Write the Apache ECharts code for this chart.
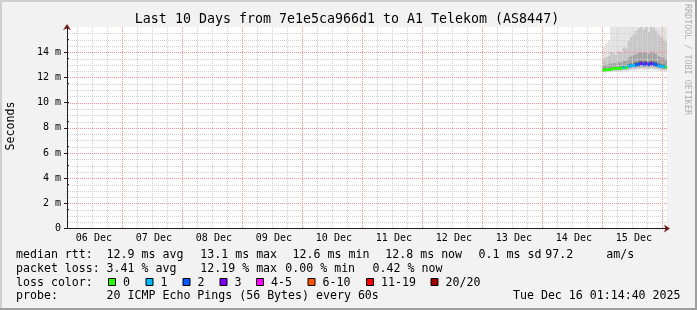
<!DOCTYPE html>
<html><head><meta charset="utf-8">
<script src="https://cdn.jsdelivr.net/npm/echarts@6/dist/echarts.min.js"></script>
<style>html,body{margin:0;padding:0;background:#f2f2f2}#c{width:697px;height:310px}</style>
</head><body><div id="c"></div>
<script>
// ---------------- data ----------------
const titleText = 'Last 10 Days from 7e1e5ca966d1 to A1 Telekom (AS8447)';
const rangeStart = '2025-12-06 01:14:40';
const rangeEnd = '2025-12-16 01:14:40';
const dayLabels = ['06 Dec','07 Dec','08 Dec','09 Dec','10 Dec','11 Dec','12 Dec','13 Dec','14 Dec','15 Dec'];
const dayLabelTimes = ['2025-12-06 12:00','2025-12-07 12:00','2025-12-08 12:00','2025-12-09 12:00','2025-12-10 12:00',
  '2025-12-11 12:00','2025-12-12 12:00','2025-12-13 12:00','2025-12-14 12:00','2025-12-15 12:00'];
const yMax = 16;
const yTickValues = [0, 2, 4, 6, 8, 10, 12, 14];
const yTickLabels = ['0', '2 m', '4 m', '6 m', '8 m', '10 m', '12 m', '14 m'];

// hourly bins (start times)
const binStart = ['2025-12-14 23:30','2025-12-15 00:30','2025-12-15 01:30','2025-12-15 02:30','2025-12-15 03:30',
  '2025-12-15 04:30','2025-12-15 05:30','2025-12-15 06:30','2025-12-15 07:30','2025-12-15 08:30',
  '2025-12-15 09:30','2025-12-15 10:30','2025-12-15 11:30','2025-12-15 12:30','2025-12-15 13:30',
  '2025-12-15 14:30','2025-12-15 15:30','2025-12-15 16:30','2025-12-15 17:30','2025-12-15 18:30',
  '2025-12-15 19:30','2025-12-15 20:30','2025-12-15 21:30','2025-12-15 22:30','2025-12-15 23:30',
  '2025-12-16 00:30'];
// median RTT (ms)
const medianRtt = [12.58,12.60,12.62,12.65,12.70,12.70,12.72,12.72,12.78,12.76,12.90,12.92,12.95,13.00,13.05,
  13.10,13.05,13.08,13.02,13.10,13.05,13.00,12.90,12.88,12.85,12.80];
// lost pings out of 20
const lossCount = [0,0,0,0,0,0,0,0,1,0,1,1,1,2,2,3,2,3,2,3,2,2,1,1,1,0];
// smoke percentiles (ms)
const smokeLo  = [12.40,12.40,12.42,12.42,12.45,12.45,12.45,12.45,12.48,12.48,12.50,12.52,12.55,12.55,12.58,12.60,12.58,12.60,12.58,12.60,12.58,12.55,12.52,12.50,12.50,12.48];
const smokeP10 = [12.45,12.46,12.48,12.50,12.53,12.53,12.55,12.55,12.58,12.58,12.62,12.64,12.66,12.68,12.70,12.72,12.70,12.72,12.70,12.72,12.70,12.68,12.64,12.62,12.60,12.58];
const smokeP25 = [12.50,12.52,12.54,12.57,12.60,12.60,12.62,12.62,12.66,12.66,12.72,12.75,12.78,12.80,12.83,12.86,12.84,12.85,12.82,12.86,12.84,12.80,12.74,12.72,12.70,12.67];
const smokeP40 = [12.55,12.57,12.59,12.62,12.66,12.66,12.68,12.68,12.73,12.72,12.82,12.85,12.88,12.92,12.96,13.00,12.97,12.99,12.94,13.00,12.97,12.92,12.83,12.81,12.79,12.74];
const smokeP60 = [12.68,12.70,12.72,12.76,12.80,12.80,12.82,12.84,12.90,12.88,13.05,13.10,13.15,13.22,13.28,13.32,13.28,13.30,13.24,13.32,13.28,13.22,13.10,13.06,13.02,12.96];
const smokeP75 = [12.95,13.00,13.05,13.10,13.15,13.10,13.20,13.20,13.30,13.30,13.55,13.65,13.75,13.85,13.95,14.00,13.95,14.00,13.85,14.05,13.95,13.85,13.65,13.60,13.55,13.45];
const smokeP90 = [13.50,13.60,13.70,14.00,13.90,13.80,14.10,14.00,14.40,14.30,14.90,15.20,15.40,15.70,15.90,16.20,15.80,16.00,15.60,16.10,15.90,15.70,15.40,15.20,15.00,14.80];
const smokeHi  = [14.40,14.70,14.90,16.50,17.00,16.80,17.50,16.20,18.00,17.00,18.00,18.00,18.50,19.00,19.00,19.50,19.00,19.00,18.50,19.00,19.00,18.50,18.00,18.00,17.50,17.00];

const lossLabels = ['0','1','2','3','4-5','6-10','11-19','20/20'];
const lossColors = ['#26ff00','#00b8ff','#0059ff','#7e00ff','#ff00ff','#ff5500','#ff0000','#a00000'];

const legendRtt = [['median rtt:',16],['12.9 ms avg',106.6],['13.1 ms max',200.3],['12.6 ms min',292.6],['12.8 ms now',385.3],['0.1 ms sd',478.6],['97.2',545.3],['am/s',606.2]];
const legendLoss = [['packet loss:',16],['3.41 % avg',106.6],['12.19 % max',200.3],['0.00 % min',285.3],['0.42 % now',372.6]];
const legendProbe = [['probe:',16],['20 ICMP Echo Pings (56 Bytes) every 60s',106.6]];
const dateStamp = 'Tue Dec 16 01:14:40 2025';
const watermark = 'RRDTOOL / TOBI OETIKER';

// ---------------- helpers ----------------
function ts(s){
  const [d,t] = s.split(' ');
  const [Y,M,D] = d.split('-').map(Number);
  const p = t.split(':').map(Number);
  return new Date(Y, M-1, D, p[0], p[1], p[2]||0).getTime();
}
function lossIndex(n){
  if (n<=3) return n; if (n<=5) return 4; if (n<=10) return 5; if (n<=19) return 6; return 7;
}
const HOUR = 3600*1000;
const tMin = ts(rangeStart), tMax = ts(rangeEnd);
const MONO = 'DejaVu Sans Mono';
const labelTimes = dayLabelTimes.map(ts);

const smokeData = binStart.map((s,i)=>[ts(s), ts(s)+HOUR, smokeLo[i], smokeP10[i], smokeP25[i], smokeP40[i], smokeP60[i], smokeP75[i], smokeP90[i], smokeHi[i]]);
const medianData = binStart.map((s,i)=>[ts(s), ts(s)+HOUR, medianRtt[i], lossCount[i]]);

// grid lines (vertical every 6h, red at midnight; horizontal every 0.5 ms, red every 2 ms)
const vMinor = [], vMajor = [];
for (let k = 0; ; k++) {
  const t = ts('2025-12-06 06:00') + k*6*HOUR;
  if (t > tMax) break;
  if (k % 4 === 3) vMajor.push([t, 0]); else vMinor.push([t, 0]);
}
const hMinor = [], hMajor = [];
for (let k = 1; k < yMax*2; k++) { const v = k/2; if (k%4===0) hMajor.push([tMin, v]); else hMinor.push([tMin, v]); }

const GRID_MINOR = '#d0d0d0';
const GRID_MAJOR = '#f09090';

function clipGroup(children, params){
  return {type:'group', children, clipPath:{type:'rect', shape:{x:params.coordSys.x, y:params.coordSys.y, width:params.coordSys.width, height:params.coordSys.height}}};
}
function vLineSeries(data, color){
  return {type:'custom', xAxisIndex:0, yAxisIndex:0, z:3, silent:true, data,
    renderItem:(params, api)=>{
      const cs = params.coordSys;
      const x = Math.floor(api.coord([api.value(0), 0])[0]) - 0.5;
      if (x <= cs.x + 1 || x > cs.x + cs.width) return null;
      return {type:'line', shape:{x1:x, y1:cs.y, x2:x, y2:cs.y+cs.height}, style:{stroke:color, lineWidth:1, lineDash:[1,1]}};
    }};
}
function hLineSeries(data, color){
  return {type:'custom', xAxisIndex:0, yAxisIndex:0, z:3, silent:true, data,
    renderItem:(params, api)=>{
      const cs = params.coordSys;
      const y = Math.round(api.coord([api.value(0), api.value(1)])[1]) + 0.5;
      return {type:'line', shape:{x1:cs.x+1, y1:y, x2:cs.x+cs.width, y2:y}, style:{stroke:color, lineWidth:1, lineDash:[1,1]}};
    }};
}

const shades = ['#e2e2e2','#c6c6c6','#a2a2a2','#6a6a6a'];

const chart = echarts.init(document.getElementById('c'), null, {renderer:'canvas'});
const graphics = [];
// borders
graphics.push({type:'rect', shape:{x:0,y:0,width:697,height:2}, style:{fill:'#cfcfcf'}, z:10});
graphics.push({type:'rect', shape:{x:0,y:0,width:2,height:310}, style:{fill:'#cfcfcf'}, z:10});
graphics.push({type:'rect', shape:{x:0,y:308,width:697,height:2}, style:{fill:'#9e9e9e'}, z:11});
graphics.push({type:'rect', shape:{x:695,y:0,width:2,height:310}, style:{fill:'#9e9e9e'}, z:11});
// title
graphics.push({type:'text', x:347, y:19.5, style:{text:titleText, font:'13.3px "DejaVu Sans Mono"', fill:'#000', align:'center', verticalAlign:'middle'}});
// y axis name
graphics.push({type:'text', x:10.5, y:126, rotation:Math.PI/2, style:{text:'Seconds', font:'11.6px "DejaVu Sans Mono"', fill:'#000', align:'center', verticalAlign:'middle'}});
// watermark
graphics.push({type:'text', x:687.5, y:59.5, rotation:-Math.PI/2, style:{text:watermark, font:'8.4px "DejaVu Sans Mono"', fill:'rgba(0,0,0,0.3)', align:'center', verticalAlign:'middle'}});
// legend rows
const LF = '11.6px "DejaVu Sans Mono"';
function addRow(items, y){ items.forEach(([t,x])=>graphics.push({type:'text', x, y, style:{text:t, font:LF, fill:'#000', align:'left', verticalAlign:'middle'}})); }
addRow(legendRtt, 254.5);
addRow(legendLoss, 268.5);
addRow([['loss color:',16]], 282.5);
addRow(legendProbe, 296);
graphics.push({type:'text', x:680.5, y:296, style:{text:dateStamp, font:LF, fill:'#000', align:'right', verticalAlign:'middle'}});
const boxX = [108, 145.5, 182.5, 219.5, 256, 307.5, 366, 430.5];
lossLabels.forEach((lab,i)=>{
  graphics.push({type:'rect', shape:{x:boxX[i]+0.5, y:278.5, width:7, height:7}, style:{fill:lossColors[i], stroke:'#000', lineWidth:1}});
  graphics.push({type:'text', x:boxX[i]+15, y:282.5, style:{text:lab, font:LF, fill:'#000', align:'left', verticalAlign:'middle'}});
});

const option = {
  animation:false,
  backgroundColor:'#f2f2f2',
  grid:{left:67, top:27, width:600, height:201.6, show:true, backgroundColor:'#ffffff', borderWidth:0, containLabel:false},
  xAxis:[{
    type:'value', min:tMin, max:tMax, z:5,
    axisLine:{show:true, lineStyle:{color:'#1f1f1f', width:1}},
    axisTick:{show:false},
    splitLine:{show:false},
    axisLabel:{customValues: labelTimes, formatter:(v)=>{const i=labelTimes.indexOf(v); return i>=0?dayLabels[i]:'';},
      fontFamily:MONO, fontSize:10, color:'#000', margin:5, hideOverlap:false}
  },{
    type:'value', min:tMin, max:tMax, z:1, position:'bottom',
    axisLine:{show:true, symbol:['none','arrow'], symbolSize:[6,6], symbolOffset:[0,3], lineStyle:{color:'#7f1f1f', width:1}},
    axisTick:{show:false}, axisLabel:{show:false}, splitLine:{show:false}
  }],
  yAxis:[{
    type:'value', min:0, max:yMax, interval:2, z:5,
    axisLine:{show:true, lineStyle:{color:'#1f1f1f', width:1}},
    axisTick:{show:true, length:3, lineStyle:{color:'#1f1f1f'}},
    splitLine:{show:false},
    axisLabel:{fontFamily:MONO, fontSize:10, color:'#000', margin:6, showMaxLabel:false,
      formatter:(v)=>{const i=yTickValues.indexOf(v); return i>=0?yTickLabels[i]:'';}}
  },{
    type:'value', min:0, max:yMax, interval:0.5, z:1, position:'left',
    axisLine:{show:true, symbol:['none','arrow'], symbolSize:[6,6], symbolOffset:[0,3], lineStyle:{color:'#7f1f1f', width:1}},
    axisTick:{show:true, inside:true, length:2, lineStyle:{color:'#1f1f1f'}},
    axisLabel:{show:false}, splitLine:{show:false}
  }],
  graphic: graphics,
  series:[
    { // smoke
      type:'custom', xAxisIndex:0, yAxisIndex:0, z:2, silent:true,
      data: smokeData,
      renderItem:(params, api)=>{
        const x0 = api.coord([api.value(0), 0])[0];
        const x1 = api.coord([api.value(1), 0])[0];
        const pairs = [[2,9],[3,8],[4,7],[5,6]];
        const kids = pairs.map((p,k)=>{
          const ya = api.coord([api.value(0), api.value(p[0])])[1];
          const yb = api.coord([api.value(0), api.value(p[1])])[1];
          return {type:'rect', shape:{x:x0, y:yb, width:x1-x0, height:ya-yb}, style:{fill:shades[k]}};
        });
        return clipGroup(kids, params);
      }
    },
    vLineSeries(vMinor, GRID_MINOR),
    hLineSeries(hMinor, GRID_MINOR),
    vLineSeries(vMajor, GRID_MAJOR),
    hLineSeries(hMajor, GRID_MAJOR),
    { // median coloured by loss
      type:'custom', xAxisIndex:0, yAxisIndex:0, z:4, silent:true,
      data: medianData,
      renderItem:(params, api)=>{
        const x0 = api.coord([api.value(0), 0])[0];
        const x1 = api.coord([api.value(1), 0])[0];
        const y = api.coord([api.value(0), api.value(2)])[1];
        const c = lossColors[lossIndex(api.value(3))];
        return clipGroup([{type:'rect', shape:{x:x0, y:y-1.5, width:x1-x0, height:3}, style:{fill:c}}], params);
      }
    }
  ]
};
chart.setOption(option);
</script>
</body></html>
